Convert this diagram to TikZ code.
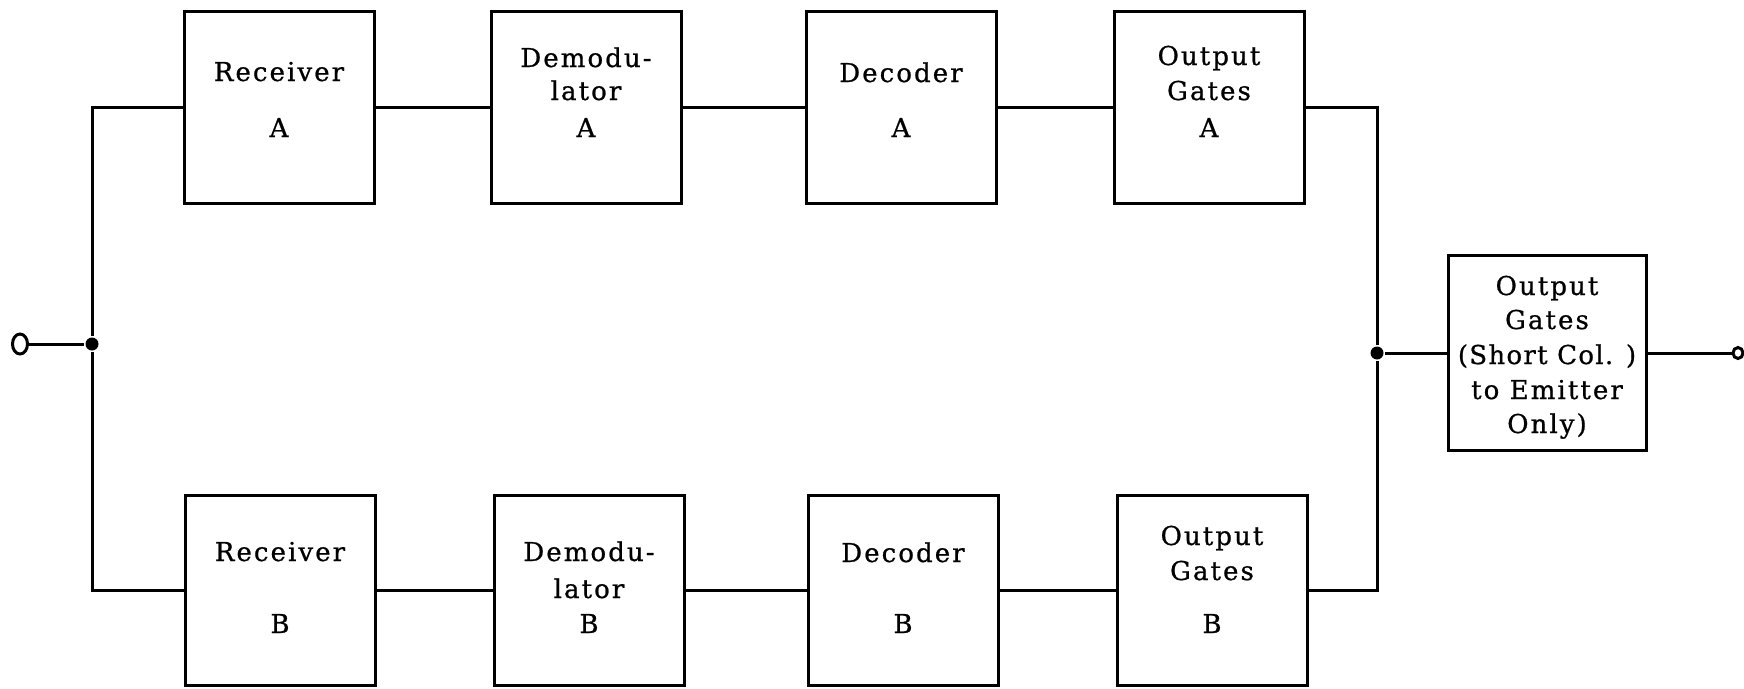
\documentclass[tikz,border=0pt]{standalone}
\usepackage{fontspec}
\setmainfont{DejaVu Serif}[LetterSpace=8, FakeBold=0.8]
\usetikzlibrary{shapes.geometric}
\begin{document}
\begin{tikzpicture}[x=1pt,y=-1pt, line width=3pt,
  blk/.style={draw, line width=3pt, minimum width=190pt, minimum height=192pt, inner sep=0pt,
    align=center, font=\fontsize{26}{30}\selectfont, text height=60pt, text depth=0pt},
  blkb/.style={blk, minimum height=190pt, text height=86pt},
  dot/.style={circle, fill, inner sep=0pt, minimum size=13pt},
  term/.style={ellipse, draw, line width=3pt, inner sep=0pt},
]
\useasboundingbox (0,0) rectangle (1744,688);

\node[blk] (ra) at (279,107) {Receiver\\[26pt]A};
\node[blk] (da) at (586,107) {Demodu-\\[3pt]lator\\[7pt]A};
\node[blk] (dea) at (901,107) {Decoder\\[25pt]A};
\node[blk] (oa) at (1209,107) {Output\\[5pt]Gates\\[7pt]A};

\node[blkb] (rb) at (280,590) {Receiver\\[42pt]B};
\node[blkb] (db) at (589,590) {Demodu-\\[7pt]lator\\[5pt]B};
\node[blkb] (deb) at (903,590) {Decoder\\[41pt]B};
\node[blkb] (ob) at (1212,590) {Output\\[5pt]Gates\\[23pt]B};

\node[blk, minimum width=198pt, minimum height=195pt, text height=160pt] (fin) at (1547,353)
  {Output\\[4pt]Gates\\[5pt]{\addfontfeature{LetterSpace=5}(Short Col. )}\\[5pt]to Emitter\\[4pt]Only)};

\node[dot] (jl) at (92,344) {};
\node[dot] (jr) at (1377,353) {};
\node[term, minimum width=15pt, minimum height=20pt] (tin) at (20,344) {};
\node[term, minimum width=10pt, minimum height=11pt] (tout) at (1738,353) {};

\draw (tin) -- (jl);
\draw (jl) |- (ra.west);
\draw (jl) |- (rb.west);
\draw (ra) -- (da);
\draw (da) -- (dea);
\draw (dea) -- (oa);
\draw (rb) -- (db);
\draw (db) -- (deb);
\draw (deb) -- (ob);
\draw (oa) -| (jr);
\draw (ob) -| (jr);
\draw (jr) -- (fin);
\draw (fin) -- (tout);
\end{tikzpicture}
\end{document}
